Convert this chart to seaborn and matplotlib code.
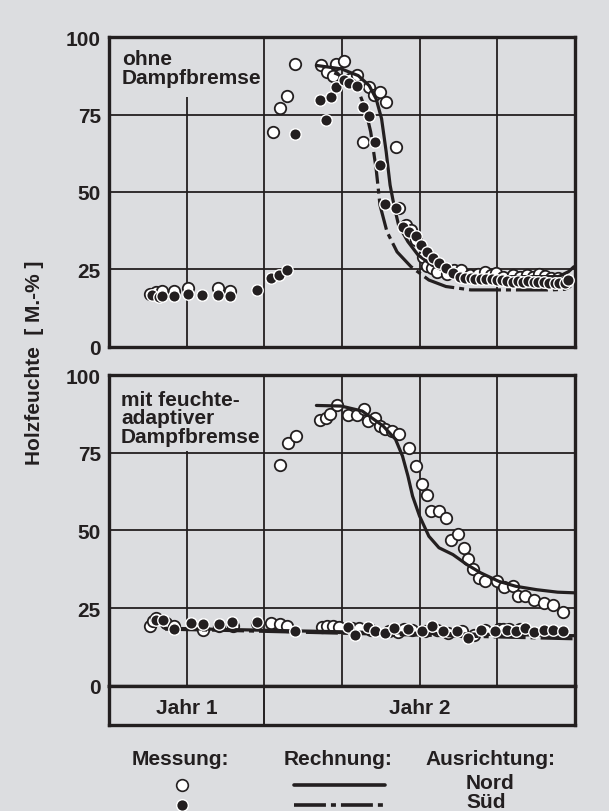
import matplotlib
matplotlib.use("Agg")
import matplotlib.pyplot as plt
from matplotlib.lines import Line2D
from matplotlib.patches import Rectangle
import seaborn as sns
import numpy as np

# ---------------- data (x in grid-column units, 0..6; Jahr 1 = 0..2, Jahr 2 = 2..6) ----------------
# Top panel: ohne Dampfbremse
top_nord_meas_x = [0.52, 0.60, 0.68, 0.83, 1.02, 1.40, 1.56,
                   2.11, 2.20, 2.29, 2.39,
                   2.73, 2.81, 2.88, 2.92, 3.03, 3.10, 3.19, 3.35, 3.41, 3.49, 3.57, 3.27, 3.69,
                   3.73, 3.82, 3.89, 3.95, 4.05, 4.10, 4.16, 4.23, 4.35, 4.45, 4.54, 4.65, 4.75,
                   4.84, 4.92, 4.99, 5.08, 5.20, 5.30, 5.38, 5.46, 5.54, 5.62, 5.69, 5.78, 5.87]
top_nord_meas_y = [17.0, 17.5, 17.8, 18.0, 18.8, 18.8, 17.8,
                   69.4, 77.2, 81.0, 91.4,
                   90.9, 88.9, 87.6, 91.4, 92.3, 86.5, 87.8, 83.9, 81.4, 82.3, 79.0, 66.3, 64.5,
                   44.9, 39.2, 37.6, 34.5, 29.0, 26.0, 25.3, 24.2, 23.5, 24.6, 24.7, 23.0, 23.5,
                   24.2, 23.0, 23.7, 22.5, 23.1, 22.5, 23.1, 22.5, 23.3, 22.8, 22.3, 22.0, 21.0]

top_sued_meas_x = [0.55, 0.64, 0.68, 0.83, 1.02, 1.19, 1.40, 1.56, 1.90, 2.09, 2.19, 2.29, 2.39,
                   2.72, 2.80, 2.86, 2.92, 3.03, 3.09, 3.19, 3.27, 3.35, 3.43, 3.49, 3.55, 3.69,
                   3.78, 3.87, 3.95, 4.02, 4.09, 4.17, 4.25, 4.34, 4.43, 4.52, 4.59, 4.66, 4.72,
                   4.79, 4.86, 4.93, 5.00, 5.06, 5.13, 5.20, 5.27, 5.33, 5.40, 5.47, 5.53, 5.60,
                   5.67, 5.74, 5.80, 5.87, 5.92]
top_sued_meas_y = [16.5, 16.0, 16.2, 16.3, 17.0, 16.6, 16.6, 16.4, 18.3, 22.3, 23.1, 24.7, 68.6,
                   79.8, 73.3, 80.6, 83.9, 86.2, 85.2, 84.1, 77.6, 74.5, 66.3, 58.6, 46.2, 44.8,
                   38.7, 37.1, 35.8, 32.8, 30.6, 28.7, 26.9, 25.3, 23.9, 22.6, 22.2, 22.0, 21.8,
                   21.8, 21.7, 21.7, 21.6, 21.5, 21.3, 21.0, 21.2, 21.0, 21.1, 21.0, 20.9, 20.8,
                   20.6, 20.4, 20.5, 20.4, 21.5]

top_nord_calc_x = [2.67, 2.99, 3.21, 3.35, 3.44, 3.51, 3.57, 3.62, 3.67, 3.73, 3.85, 3.98,
                   4.16, 4.39, 4.66, 5.24, 5.79, 5.92, 5.99]
top_nord_calc_y = [90.9, 89.8, 87.6, 84.4, 80.1, 73.7, 62.9, 52.2, 45.7, 39.2, 33.9, 29.6,
                   26.3, 23.7, 22.6, 22.6, 22.6, 24.2, 25.8]

top_sued_calc_x = [2.90, 3.03, 3.21, 3.30, 3.37, 3.44, 3.49, 3.58, 3.71, 3.89, 4.12, 4.34,
                   4.66, 5.24, 5.69, 5.87, 5.95]
top_sued_calc_y = [88.5, 87.1, 82.8, 76.9, 69.4, 57.5, 45.7, 37.1, 30.6, 25.8, 21.5, 19.4,
                   18.3, 18.3, 18.3, 18.5, 19.5]

# Bottom panel: mit feuchteadaptiver Dampfbremse
bot_nord_meas_x = [2.20, 2.30, 2.41, 2.72, 2.79, 2.85, 2.94, 3.08, 3.19, 3.28, 3.34, 3.43, 3.49,
                   3.55, 3.64, 3.74, 3.86, 3.95, 4.03, 4.10, 4.15, 4.25, 4.34, 4.41, 4.50, 4.57,
                   4.63, 4.69, 4.77, 4.85, 5.00, 5.09, 5.20, 5.27, 5.36, 5.47, 5.60, 5.72, 5.85,
                   0.53, 0.56, 0.60, 0.73, 0.83, 1.21, 1.41, 1.59, 1.91, 2.09, 2.20, 2.29, 2.74,
                   2.81, 2.89, 2.96, 3.13, 3.22, 3.38, 3.60, 3.72, 3.80, 3.90, 4.07, 4.22, 4.37,
                   4.55, 4.70, 4.85, 5.02, 5.08, 5.15, 5.30]
bot_nord_meas_y = [71.0, 78.2, 80.3, 85.5, 86.2, 87.5, 90.2, 87.0, 87.0, 88.9, 85.2, 86.2, 83.6,
                   82.7, 82.0, 80.9, 76.6, 70.7, 64.8, 61.5, 56.2, 56.2, 54.0, 47.0, 48.7, 44.4,
                   40.8, 37.4, 34.7, 33.6, 33.6, 31.7, 32.0, 28.8, 28.8, 27.5, 26.6, 26.1, 23.7,
                   19.1, 20.7, 21.8, 20.2, 19.1, 18.0, 19.1, 19.1, 20.2, 20.2, 19.7, 19.1, 18.9,
                   19.1, 19.1, 19.0, 18.5, 18.6, 18.0, 17.5, 17.2, 18.4, 18.0, 17.5, 18.0, 17.0,
                   17.5, 16.3, 18.0, 18.3, 18.3, 18.3, 18.2]

bot_sued_meas_x = [0.60, 0.69, 0.83, 1.05, 1.21, 1.41, 1.58, 1.91, 2.40, 3.08, 3.17, 3.33, 3.42,
                   3.55, 3.67, 3.85, 4.03, 4.16, 4.30, 4.48, 4.63, 4.79, 4.97, 5.13, 5.24, 5.36,
                   5.47, 5.60, 5.72, 5.85]
bot_sued_meas_y = [21.3, 21.3, 18.3, 20.2, 19.7, 19.7, 20.5, 20.5, 17.5, 18.8, 16.4, 18.8, 17.5,
                   17.0, 18.6, 18.3, 17.5, 19.1, 17.5, 17.5, 15.4, 18.0, 17.5, 18.0, 17.5, 18.6,
                   17.2, 17.8, 17.8, 17.5]

bot_nord_calc_x = [2.67, 2.99, 3.26, 3.53, 3.69, 3.78, 3.85, 3.91, 4.00, 4.12, 4.25, 4.43,
                   4.61, 4.79, 5.02, 5.24, 5.51, 5.78, 5.99]
bot_nord_calc_y = [90.2, 90.0, 88.4, 83.6, 79.3, 73.9, 67.5, 61.0, 54.6, 48.1, 44.4, 42.2,
                   39.0, 36.3, 33.6, 32.0, 30.9, 30.1, 29.9]

bot_sued_calc_x = [0.72, 1.50, 2.50, 3.50, 4.50, 5.50, 6.00]
bot_sued_calc_y = [18.2, 17.8, 17.2, 16.6, 16.0, 15.4, 15.1]
bot_nord2_calc_x = [0.72, 1.50, 2.50, 3.50, 4.50, 5.50, 6.00]
bot_nord2_calc_y = [18.5, 18.1, 17.6, 17.1, 16.7, 16.3, 16.1]

y_ticks = [0, 25, 50, 75, 100]
year_labels = ["Jahr 1", "Jahr 2"]
panel_labels = ["ohne\nDampfbremse", "mit feuchte-\nadaptiver\nDampfbremse"]

# ---------------- style ----------------
BG = "#dcdde0"
INK = "#231f20"
sns.set_theme(style="white")
plt.rcParams["font.family"] = ["Liberation Sans", "DejaVu Sans"]
plt.rcParams["font.weight"] = "bold"
plt.rcParams["lines.scale_dashes"] = False
FS = 15

fig = plt.figure(figsize=(6.09, 8.12), dpi=100, facecolor=BG)
L, W = 109.3 / 609, 465.4 / 609
ax_top = fig.add_axes([L, 1 - 347.5 / 812, W, 309.2 / 812])
ax_bot = fig.add_axes([L, 1 - 686.7 / 812, W, 310.7 / 812])
ax_yr = fig.add_axes([L, 1 - 725.5 / 812, W, 38.8 / 812])

DASHDOT = (0, (23, 3.6, 3.6, 3.6))
MS = 68


def style_panel(ax):
    ax.set_facecolor(BG)
    ax.set_xlim(0, 6)
    ax.set_ylim(0, 100)
    ax.set_xticks([1, 2, 3, 4, 5])
    ax.set_yticks(y_ticks)
    ax.set_xticklabels([])
    ax.set_yticklabels([str(v) for v in y_ticks], fontsize=FS, fontweight="bold", color=INK)
    ax.tick_params(length=0, pad=6)
    ax.grid(True, color=INK, lw=1.3)
    ax.set_axisbelow(True)
    for s in ax.spines.values():
        s.set_linewidth(2.4)
        s.set_color(INK)
        s.set_visible(True)
    ax.set_xlabel("")
    ax.set_ylabel("")


def draw_open(ax, x, y):
    sns.scatterplot(x=x, y=y, ax=ax, s=MS, color="white", edgecolor=INK,
                    linewidth=1.3, zorder=3, legend=False)


def draw_filled(ax, x, y):
    sns.scatterplot(x=x, y=y, ax=ax, s=MS, color=INK, edgecolor="white",
                    linewidth=1.0, zorder=5, legend=False)


def draw_line(ax, x, y, ls):
    sns.lineplot(x=x, y=y, ax=ax, color=INK, lw=2.3, linestyle=ls,
                 estimator=None, sort=False, zorder=4, legend=False)


# top panel
draw_open(ax_top, top_nord_meas_x, top_nord_meas_y)
draw_line(ax_top, top_nord_calc_x, top_nord_calc_y, "-")
draw_line(ax_top, top_sued_calc_x, top_sued_calc_y, DASHDOT)
draw_filled(ax_top, top_sued_meas_x, top_sued_meas_y)
style_panel(ax_top)
ax_top.add_patch(Rectangle((0.03, 80.6), 1.9, 19.0, facecolor=BG, edgecolor="none", zorder=1))
ax_top.text(0.16, 96.2, panel_labels[0], fontsize=FS, fontweight="bold", color=INK,
            va="top", ha="left", linespacing=0.98, zorder=2)

# bottom panel
draw_open(ax_bot, bot_nord_meas_x, bot_nord_meas_y)
draw_line(ax_bot, bot_nord_calc_x, bot_nord_calc_y, "-")
draw_line(ax_bot, bot_nord2_calc_x, bot_nord2_calc_y, "-")
draw_line(ax_bot, bot_sued_calc_x, bot_sued_calc_y, DASHDOT)
draw_filled(ax_bot, bot_sued_meas_x, bot_sued_meas_y)
style_panel(ax_bot)
ax_bot.add_patch(Rectangle((0.03, 75.5), 1.9, 24.1, facecolor=BG, edgecolor="none", zorder=1))
ax_bot.text(0.15, 95.3, panel_labels[1], fontsize=FS, fontweight="bold", color=INK,
            va="top", ha="left", linespacing=0.98, zorder=2)

# year box
ax_yr.set_facecolor(BG)
ax_yr.set_xlim(0, 6)
ax_yr.set_ylim(0, 1)
ax_yr.set_xticks([])
ax_yr.set_yticks([])
for s in ax_yr.spines.values():
    s.set_linewidth(2.4)
    s.set_color(INK)
    s.set_visible(True)
ax_yr.axvline(2, color=INK, lw=1.4)
ax_yr.text(1, 0.45, year_labels[0], ha="center", va="center", fontsize=FS, fontweight="bold", color=INK)
ax_yr.text(4, 0.45, year_labels[1], ha="center", va="center", fontsize=FS, fontweight="bold", color=INK)

# y label
fig.text(35 / 609, 1 - 363 / 812, "Holzfeuchte  [ M.-% ]", rotation=90, ha="center", va="center",
         fontsize=FS, fontweight="bold", color=INK)

# legend
def fx(px):
    return px / 609


def fy(py):
    return 1 - py / 812


fig.text(fx(180), fy(760), "Messung:", ha="center", va="center", fontsize=FS, fontweight="bold", color=INK)
fig.text(fx(338), fy(760), "Rechnung:", ha="center", va="center", fontsize=FS, fontweight="bold", color=INK)
fig.text(fx(490), fy(760), "Ausrichtung:", ha="center", va="center", fontsize=FS, fontweight="bold", color=INK)
fig.text(fx(466), fy(784), "Nord", ha="left", va="center", fontsize=FS, fontweight="bold", color=INK)
fig.text(fx(466), fy(803), "Süd", ha="left", va="center", fontsize=FS, fontweight="bold", color=INK)
fig.add_artist(Line2D([fx(181.7)], [fy(785.7)], marker="o", ms=8.4, mfc="white", mec=INK,
                      mew=1.2, ls="none", transform=fig.transFigure))
fig.add_artist(Line2D([fx(181.7)], [fy(805.7)], marker="o", ms=8.4, mfc=INK, mec="white",
                      mew=1.0, ls="none", transform=fig.transFigure))
fig.add_artist(Line2D([fx(294), fx(385)], [fy(785.7), fy(785.7)], color=INK, lw=2.6,
                      transform=fig.transFigure))
fig.add_artist(Line2D([fx(294), fx(385)], [fy(805.7), fy(805.7)], color=INK, lw=2.6,
                      linestyle=DASHDOT, transform=fig.transFigure))

fig.savefig("out.png", dpi=100, facecolor=BG)
